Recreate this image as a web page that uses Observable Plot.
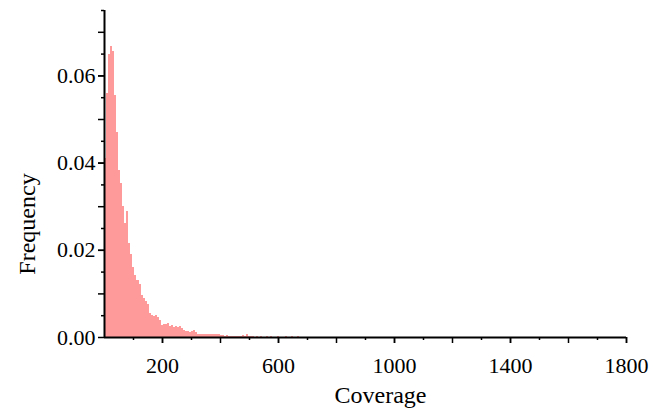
<!DOCTYPE html>
<html>
<head>
<meta charset="utf-8">
<script src="https://cdn.jsdelivr.net/npm/d3@7"></script>
<script src="https://cdn.jsdelivr.net/npm/@observablehq/plot@0.6"></script>
<style>
  html, body { margin: 0; padding: 0; background: #fff; }
  svg text { font-family: 'Liberation Serif', 'Times New Roman', serif !important; }
</style>
</head>
<body>
<div id="chart"></div>
<script>
// Histogram bins (lower edge of each bin, coverage units) and width
const binWidth = 7;
const binStarts = [
  0, 7, 14, 21, 28, 35, 42, 49, 56, 63,
  70, 77, 84, 91, 98, 105, 112, 119, 126, 133,
  140, 147, 154, 161, 168, 175, 182, 189, 196, 203,
  210, 217, 224, 231, 238, 245, 252, 259, 266, 273,
  280, 287, 294, 301, 308, 315, 322, 329, 336, 343,
  350, 357, 364, 371, 378, 385, 392, 399, 406, 413,
  420, 427, 434, 441, 448, 455, 462, 469, 476, 483,
  490, 497, 504, 511, 518, 525, 532, 539, 546, 553,
  560, 567, 574, 581, 588, 595, 602, 609, 616, 623,
  630, 637, 644, 651, 658, 665, 672, 679, 686, 693,
  700, 707, 714, 721, 728, 735, 742, 749
];
const frequencies = [
  0.0410, 0.0560, 0.0650, 0.0667, 0.0655, 0.0554, 0.0470, 0.0384, 0.0354, 0.0300,
  0.0262, 0.0288, 0.0215, 0.0190, 0.0160, 0.0142, 0.0131, 0.0122, 0.0096, 0.0089,
  0.0083, 0.0075, 0.0056, 0.0050, 0.0048, 0.0050, 0.0046, 0.0038, 0.0027, 0.0029,
  0.0029, 0.0031, 0.0026, 0.0027, 0.0022, 0.0026, 0.0022, 0.0025, 0.0020, 0.0015,
  0.0014, 0.0013, 0.0012, 0.0013, 0.0015, 0.0011, 0.0007, 0.0008, 0.0008, 0.0008,
  0.0007, 0.0008, 0.0006, 0.0007, 0.0007, 0.0008, 0.0006, 0.0005, 0.0004, 0.0003,
  0.0004, 0.0003, 0.0003, 0.0002, 0.0003, 0.0002, 0.0003, 0.0002, 0.0005, 0.0003,
  0.0006, 0.0002, 0.0002, 0.0003, 0.0001, 0.0002, 0.0001, 0.0003, 0.0001, 0.0001,
  0.0002, 0.0001, 0.0002, 0.0001, 0.0001, 0.0002, 0.0001, 0.0001, 0.0001, 0.0002,
  0.0001, 0.0001, 0.0002, 0.0001, 0.0001, 0.0002, 0.0001, 0.0000, 0.0001, 0.0000,
  0.0001, 0.0000, 0.0000, 0.0001, 0.0000, 0.0000, 0.0000, 0.0001
];

// Axis tick values
const xTickLabels = [200, 600, 1000, 1400, 1800];
const xMajorTicks = [200, 400, 600, 800, 1000, 1200, 1400, 1600, 1800];
const xMinorTicks = [100, 300, 500, 700, 900, 1100, 1300, 1500, 1700];
const yTickLabels = [0, 0.02, 0.04, 0.06];
const yMajorTicks = [0.01, 0.02, 0.03, 0.04, 0.05, 0.06, 0.07];
const yMinorTicks = [0.005, 0.015, 0.025, 0.035, 0.045, 0.055, 0.065, 0.075];

const xLabel = "Coverage";
const yLabel = "Frequency";

const bins = binStarts.map((x, i) => ({x1: x, x2: x + binWidth, y: frequencies[i]}));

const font = "'Liberation Serif', 'Times New Roman', serif";
const barColor = "#ff9a9a";

const chart = Plot.plot({
  width: 649,
  height: 412,
  marginLeft: 104,
  marginRight: 23,
  marginTop: 10,
  marginBottom: 75,
  style: {fontFamily: font, background: "#fff", color: "#000", overflow: "visible"},
  x: {domain: [0, 1800]},
  y: {domain: [0, 0.075]},
  marks: [
    Plot.rectY(bins, {x1: "x1", x2: "x2", y: "y", fill: barColor, inset: 0, shapeRendering: "crispEdges"}),
    // x ticks
    Plot.axisX({ticks: xMinorTicks, tickSize: 3, tickFormat: () => "", strokeWidth: 1.5, label: null}),
    Plot.axisX({ticks: xMajorTicks, tickSize: 6, tickFormat: () => "", strokeWidth: 1.5, label: null}),
    Plot.axisX({ticks: xTickLabels, tickSize: 6, tickPadding: 14, fontSize: 22, fontFamily: font, strokeWidth: 1.5, label: null, tickFormat: d3.format("d")}),
    // y ticks
    Plot.axisY({ticks: yMinorTicks, tickSize: 3, tickFormat: () => "", strokeWidth: 1.5, label: null}),
    Plot.axisY({ticks: yMajorTicks, tickSize: 6, tickFormat: () => "", strokeWidth: 1.5, label: null}),
    Plot.axisY({ticks: yTickLabels, tickSize: 6, tickPadding: 3, fontSize: 22, fontFamily: font, strokeWidth: 1.5, label: null, tickFormat: d3.format(".2f")}),
    // axis lines
    Plot.ruleX([0], {stroke: "#000", strokeWidth: 2}),
    Plot.ruleY([0], {stroke: "#000", strokeWidth: 2}),
    // axis titles
    Plot.text([xLabel], {frameAnchor: "bottom", dx: 15, dy: 58, fontSize: 24, fontFamily: font, fill: "#000", lineAnchor: "middle"}),
    Plot.text([yLabel], {frameAnchor: "left", textAnchor: "middle", rotate: -90, dx: -77, dy: 50, fontSize: 24, fontFamily: font, fill: "#000", lineAnchor: "middle"})
  ]
});

document.getElementById("chart").appendChild(chart);
</script>
</body>
</html>
